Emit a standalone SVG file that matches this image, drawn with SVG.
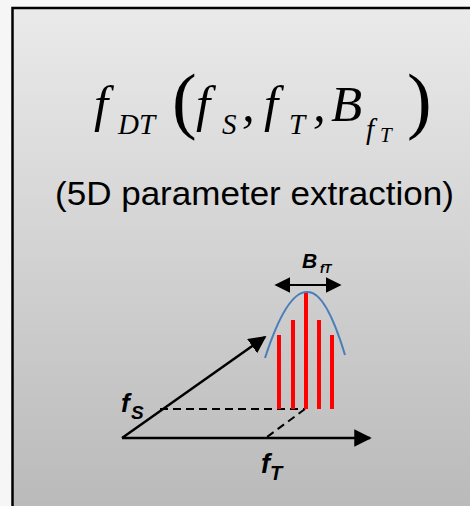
<svg xmlns="http://www.w3.org/2000/svg" width="470" height="506" viewBox="0 0 470 506">
<defs>
<linearGradient id="bg" x1="0" y1="0" x2="0" y2="1">
<stop offset="0" stop-color="#eaeaea"/>
<stop offset="1" stop-color="#b9b9b9"/>
</linearGradient>
<marker id="ah" viewBox="0 0 10 10" refX="9" refY="5" markerWidth="7" markerHeight="7" markerUnits="strokeWidth" orient="auto">
<path d="M0,0 L10,5 L0,10 Z" fill="#000"/>
</marker>
<marker id="ah2" viewBox="0 0 10 10" refX="9" refY="5" markerWidth="8" markerHeight="8" markerUnits="strokeWidth" orient="auto-start-reverse">
<path d="M0,0 L10,5 L0,10 Z" fill="#000"/>
</marker>
<style>
.m{font-family:"Liberation Serif","Times New Roman",serif;font-style:italic;fill:#000}
.p{font-family:"Liberation Serif","Times New Roman",serif;fill:#000}
.s{font-family:"Liberation Sans",Arial,sans-serif;fill:#000}
.lb{font-family:"Liberation Sans",Arial,sans-serif;font-weight:bold;font-style:italic;fill:#000}
.ax{stroke:#000;stroke-width:2.5;fill:none}
.da{stroke:#000;stroke-width:2;fill:none;stroke-dasharray:8,5}
.bar{stroke:#ff0000;stroke-width:4}
</style>
</defs>
<rect x="0" y="0" width="470" height="506" fill="#f6f6f6"/>
<g id="panel">
<rect x="12.5" y="8" width="470" height="510" fill="url(#bg)" stroke="#000" stroke-width="2.5"/>
</g>
<g id="formula">
<text class="m" x="94" y="121" font-size="51">f</text>
<text class="m" x="118" y="134" font-size="29">DT</text>
<text class="p" x="172" y="125" font-size="74">(</text>
<text class="m" x="196" y="121" font-size="51">f</text>
<text class="m" x="222" y="134" font-size="29">S</text>
<text class="m" x="242" y="121" font-size="51">,</text>
<text class="m" x="264" y="121" font-size="51">f</text>
<text class="m" x="289" y="134" font-size="29">T</text>
<text class="m" x="313" y="121" font-size="51">,</text>
<text class="m" x="331" y="121" font-size="51">B</text>
<text class="m" x="366" y="139" font-size="29">f</text>
<text class="m" x="380" y="142" font-size="21">T</text>
<text class="p" x="407" y="125" font-size="74">)</text>
</g>
<g id="subtitle">
<text class="s" x="55" y="205" font-size="33" textLength="399" lengthAdjust="spacingAndGlyphs">(5D parameter extraction)</text>
</g>
<g id="connectors">
<line class="ax" x1="122" y1="438" x2="370" y2="438" marker-end="url(#ah)"/>
<line class="ax" x1="122" y1="438" x2="265" y2="337" marker-end="url(#ah)"/>
<line class="da" x1="160" y1="409" x2="305" y2="409"/>
<line class="da" x1="305" y1="409" x2="267" y2="437"/>
<line stroke="#000" stroke-width="2" x1="276" y1="285" x2="340" y2="285" marker-start="url(#ah2)" marker-end="url(#ah2)"/>
</g>
<g id="bars">
<line class="bar" x1="279" y1="335" x2="279" y2="409"/>
<line class="bar" x1="293" y1="320" x2="293" y2="409"/>
<line class="bar" x1="306" y1="293" x2="306" y2="409"/>
<line class="bar" x1="319" y1="320" x2="319" y2="409"/>
<line class="bar" x1="332" y1="335" x2="332" y2="409"/>
</g>
<g id="curve">
<path d="M265,358 Q287,290 308,292 Q326,292 345,355" fill="none" stroke="#4a7ebb" stroke-width="2"/>
</g>
<g id="labels">
<text class="lb" x="302" y="268" font-size="21">B</text>
<text class="lb" x="320" y="273" font-size="12">fT</text>
<text class="lb" x="121" y="412" font-size="26">f</text>
<text class="lb" x="131" y="419" font-size="19">S</text>
<text class="lb" x="261" y="473" font-size="27">f</text>
<text class="lb" x="270" y="480" font-size="20">T</text>
</g>
</svg>
